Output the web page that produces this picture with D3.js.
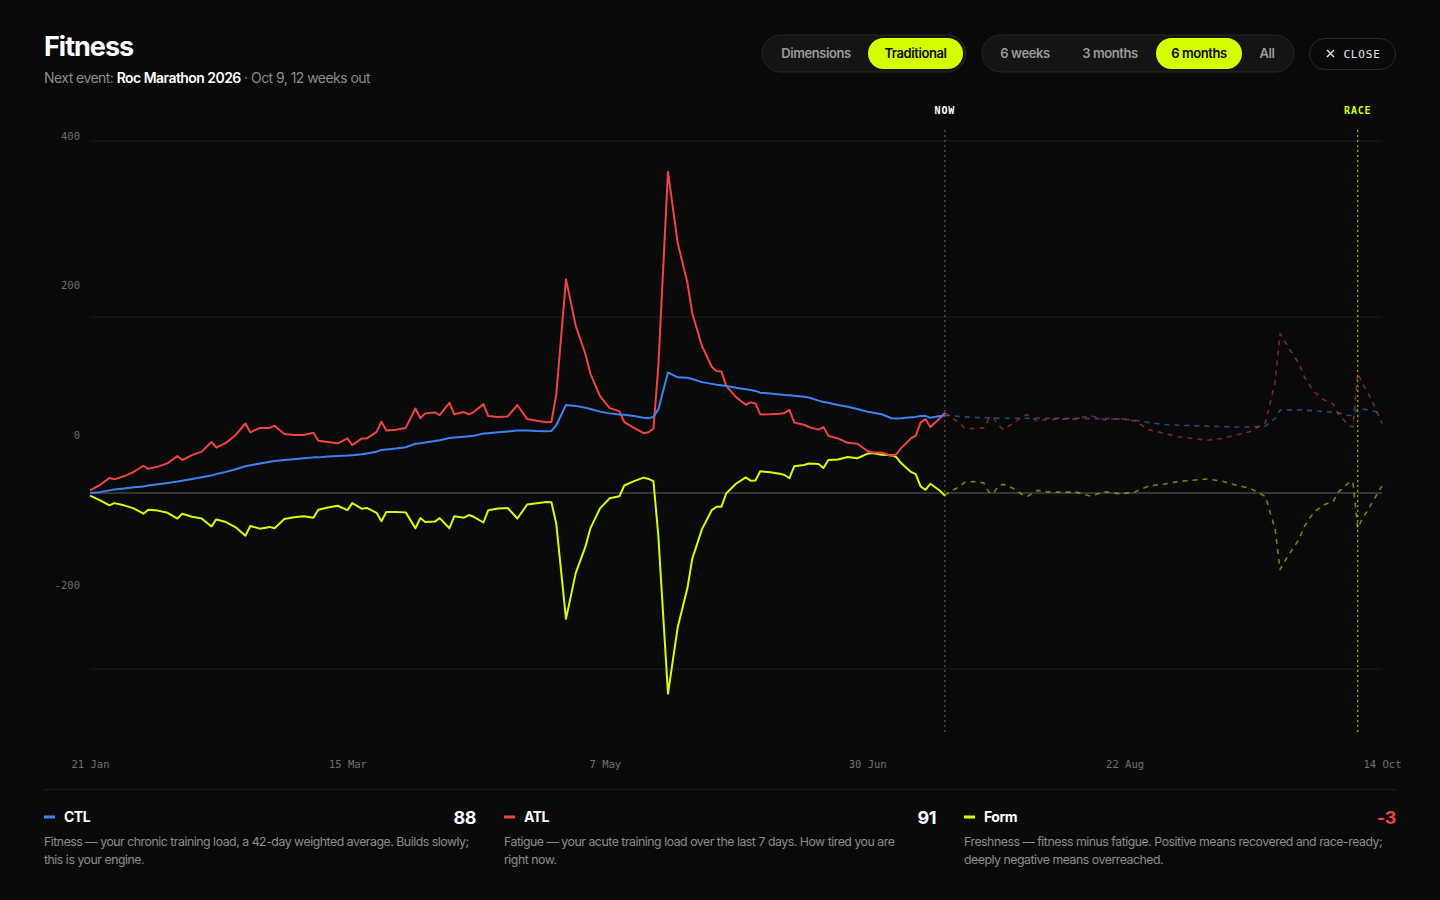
<!DOCTYPE html>
<html>
<head>
<meta charset="utf-8">
<script src="https://cdn.jsdelivr.net/npm/d3@7/dist/d3.min.js"></script>
<style>
  html,body{margin:0;padding:0;background:#0a0a0a;}
  svg{display:block;}
  .ui{font-family:Inter,"Noto Sans",sans-serif;}
  .mono{font-family:"DejaVu Sans Mono","Liberation Mono",monospace;}
</style>
</head>
<body>
<svg id="chart" width="1440" height="900"></svg>
<script>
// ---------- DATA ----------
const startDate = "2026-01-21";
const xTickLabels = ["21 Jan", "15 Mar", "7 May", "30 Jun", "22 Aug", "14 Oct"];
const xTickDates = ["2026-01-21", "2026-03-15", "2026-05-07", "2026-06-30", "2026-08-22", "2026-10-14"];
const yTicks = [400, 200, 0, -200];
const nowDate = "2026-07-16";
const raceDate = "2026-10-09";

// history (days since 21 Jan)
const pastDays = [0,2,4,5,7,9,11,12,14,16,18,19,21,23,25,26,28,30,32,33,35,37,38,40,42,44,46,47,49,51,53,54,56,57,59,60,61,63,65,67,68,69,71,72,74,75,77,78,79,81,82,84,86,88,90,92,94,95,96,98,100,102,103,105,107,109,110,112,114,115,116,117,119,121,123,124,126,128,129,130,131,133,135,136,137,138,140,142,143,144,145,147,148,150,151,152,154,156,158,160,161,163,165,166,167,169,170,171,172,173,175,176];
const pastCTL = [0,1,3,4,5,6.5,7.5,8.5,10,11.5,13,14,16,18,20,21.5,24,27,30.5,31.5,33.5,35.5,36.5,37.5,38.5,39.5,40.5,40.5,41.5,42,42.5,43,44,45,47,49,49.5,50.5,52,56,56.5,57.5,59,60,62.5,63,64,64.5,65,67.5,68,69,70,71,71,70.5,70.3,70.5,77,100,99,97,95.5,92.5,90.5,89.3,89,87.5,85.5,85,86.5,95,137,131.5,131,129.5,126,124,123,122.5,121.5,119.5,118,117,116,114,113,112,111.5,111.2,110.5,109.5,108.5,105,103.4,102.5,100,98,95.5,92.5,91.5,89.5,85,84.7,85,86,86.5,87.5,87.7,85.5,87.5,88];
const pastATL = [3,9,17,15.5,19,24,31,27.5,30,34,42,37.5,43,47,58,51.5,57,66,79,69,74,74,76.5,67,66,66,68.5,59.5,58,56.5,62,54.5,62,62,69.5,81,71,72,74,96,85,90.5,91.5,88.5,102.5,89.5,92,89.5,92,101,87.5,86.5,87,100,84,82,80.5,81,112,243,190,158,136,110,96.5,93,80.5,74,68,69,73,143,365,284,239,204,167,143.5,138.6,138,121.8,109,100.3,103,101.7,89.3,89.5,90,91,94.4,80,77.6,75,72,75,65,62,57,56,48,46,46,42,44,51,62,65,80,84,75,85,91];
const pastForm = [-3,-8,-14,-11.5,-14,-17.5,-23.5,-19,-20,-22.5,-29,-23.5,-27,-29,-38,-30,-33,-39,-48.5,-37.5,-40.5,-38.5,-40,-29.5,-27.5,-26.5,-28,-19,-16.5,-14.5,-19.5,-11.5,-18,-17,-22.5,-32,-21.5,-21.5,-22,-40,-28.5,-33,-32.5,-28.5,-40,-26.5,-28,-25,-27,-33.5,-19.5,-17.5,-17,-29,-13,-11.5,-10.2,-10.5,-35,-143,-91,-61,-40.5,-17.5,-6,-3.7,8.5,13.5,17.5,16,13.5,-48,-228,-152.5,-108,-74.5,-41,-19.5,-15.6,-15.5,-0.3,10.5,17.7,14,14.3,24.7,23.5,22,20.5,16.8,30.5,31.9,33.5,33,28.4,37.5,38,41,39.5,44.5,45.5,43.5,43,40.7,34,24,21.5,7.5,3.7,10.5,2.5,-3];

// projection
const projDays = [176,177,179,180,182,184,185,186,187,188,190,192,193,195,197,200,203,206,209,212,215,218,221,224,227,230,233,236,239,242,244,245,246,247,248,249,250,252,254,256,257,258,259,260,261,262,263,264,266];
const projCTL = [88,88,87,86.5,86,85.5,85.5,85.5,85,85,85,85,85,85,85,85,85,84.5,84.5,84,83,80,78,77,76.5,76,75.5,75,75,76,85,94,94.5,94.5,94.5,94.5,94,93.5,92.5,91.7,91,90,88,88,96,95.5,94.5,93.5,90];
const projATL = [91,87,80,74,73,74,84,86,77,72.5,79,87,89,82,83.5,84,84,88,83,85,82,72,68,64,62,60,62,66,70,80,126,181,172,163,155,146,132,115,106,101,90,84,77,75,136,124,115,104,79];
const projForm = [-3,1.5,7,12,13,11.5,1.5,-0.5,8,10,5.5,-2,-4,3,1.5,1,1,-3.5,1.5,-1,1,8,10,13,14.5,16,13.5,9,5,-4,-41,-87,-77.5,-68.5,-60.5,-51.5,-38,-21.5,-13.5,-9.3,1,6,11,13,-40,-28.5,-20.5,-10.5,8];

const legendNames = ["CTL", "ATL", "Form"];
const legendValues = ["88", "91", "-3"];
const legendText = [
  ["Fitness — your chronic training load, a 42-day weighted average. Builds slowly;", "this is your engine."],
  ["Fatigue — your acute training load over the last 7 days. How tired you are", "right now."],
  ["Freshness — fitness minus fatigue. Positive means recovered and race-ready;", "deeply negative means overreached."]
];
const modeButtons = ["Dimensions", "Traditional"];
const rangeButtons = ["6 weeks", "3 months", "6 months", "All"];

// ---------- STYLE ----------
const COL = { ctl: "#3d83f6", atl: "#ef4444", form: "#d4ff00", lime: "#d4ff00" };
const svg = d3.select("#chart");
svg.append("rect").attr("width", 1440).attr("height", 900).attr("fill", "#0a0a0a");

const parse = d3.timeParse("%Y-%m-%d");
const t0 = parse(startDate);
const toDate = d => d3.timeDay.offset(t0, d);

const x = d3.scaleTime().domain([parse(xTickDates[0]), parse(xTickDates[5])]).range([90, 1382]);
const y = d3.scaleLinear().domain([-272.7, 412.5]).range([733, 130]);
const yLab = d3.scaleLinear().domain([-200, 400]).range([585, 136]);

// ---------- HEADER ----------
svg.append("text").attr("class", "ui").attr("x", 44).attr("y", 56)
  .attr("fill", "#fff").attr("font-size", 27).attr("font-weight", 700).attr("letter-spacing", -1)
  .text("Fitness");
const sub = svg.append("text").attr("class", "ui").attr("x", 44).attr("y", 83)
  .attr("font-size", 14).attr("letter-spacing", -0.55).attr("fill", "#8c8c8c");
sub.append("tspan").text("Next event: ");
sub.append("tspan").attr("fill", "#fff").attr("font-weight", 600).text("Roc Marathon 2026");
sub.append("tspan").text(" · Oct 9, 12 weeks out");

function pillGroup(x0, w, items, centers, activeIdx, activeRect) {
  svg.append("rect").attr("x", x0).attr("y", 35).attr("width", w).attr("height", 37).attr("rx", 18.5)
    .attr("fill", "#141414").attr("stroke", "#262626");
  items.forEach((t, i) => {
    if (i === activeIdx) {
      svg.append("rect").attr("x", activeRect[0]).attr("y", 38).attr("width", activeRect[1]).attr("height", 31)
        .attr("rx", 15.5).attr("fill", COL.lime);
    }
    svg.append("text").attr("class", "ui").attr("x", centers[i]).attr("y", 58)
      .attr("text-anchor", "middle").attr("font-size", 13).attr("font-weight", 600).attr("letter-spacing", -0.4)
      .attr("fill", i === activeIdx ? "#0a0a0a" : "#9a9a9a").text(t);
  });
}
pillGroup(762, 204, modeButtons, [816, 915.5], 1, [868, 95]);
pillGroup(982, 312, rangeButtons, [1025, 1110, 1199, 1267], 2, [1156, 86]);
svg.append("rect").attr("x", 1309.5).attr("y", 38.5).attr("width", 86).attr("height", 31).attr("rx", 15.5)
  .attr("fill", "none").attr("stroke", "#2a2a2a");
svg.append("text").attr("class", "mono").attr("x", 1362).attr("y", 58).attr("text-anchor", "middle")
  .attr("font-size", 11).attr("letter-spacing", 0.8).attr("fill", "#e6e6e6").text("CLOSE");
svg.append("path").attr("d", "M1327,50 L1334,57 M1334,50 L1327,57").attr("stroke", "#e6e6e6").attr("stroke-width", 1.4);

// ---------- GRID ----------
svg.append("g").selectAll("line").data(yTicks).join("line")
  .attr("x1", 90).attr("x2", 1382).attr("y1", d => y(d)).attr("y2", d => y(d))
  .attr("stroke", d => d === 0 ? "#5e5e5e" : "#1f1f1f").attr("stroke-width", 1);

svg.append("g").selectAll("text").data(yTicks).join("text")
  .attr("class", "mono").attr("x", 80).attr("y", d => yLab(d)).attr("dy", "0.35em")
  .attr("text-anchor", "end").attr("font-size", 10.5).attr("fill", "#6e6e6e").text(d => d);

const xAxis = d3.axisBottom(x).tickValues(xTickDates.map(parse)).tickFormat((d, i) => xTickLabels[i]).tickSize(0);
const gx = svg.append("g").attr("transform", "translate(0,758)").call(xAxis);
gx.select(".domain").remove();
gx.selectAll("text").attr("class", "mono").attr("font-size", 10.5).attr("fill", "#707070")
  .attr("font-family", "DejaVu Sans Mono, monospace");

// NOW & RACE markers
const xn = x(parse(nowDate)), xr = x(parse(raceDate));
svg.append("line").attr("x1", xn).attr("x2", xn).attr("y1", 130).attr("y2", 733)
  .attr("stroke", "#5a5a5a").attr("stroke-dasharray", "2,3").attr("stroke-width", 1.2);
svg.append("line").attr("x1", xr).attr("x2", xr).attr("y1", 130).attr("y2", 733)
  .attr("stroke", "#8fa300").attr("stroke-dasharray", "2,3").attr("stroke-width", 1.4);
svg.append("text").attr("class", "mono").attr("x", xn).attr("y", 114).attr("text-anchor", "middle")
  .attr("font-size", 10).attr("font-weight", 700).attr("letter-spacing", 0.8).attr("fill", "#fff").text("NOW");
svg.append("text").attr("class", "mono").attr("x", xr).attr("y", 114).attr("text-anchor", "middle")
  .attr("font-size", 10).attr("font-weight", 700).attr("letter-spacing", 0.8).attr("fill", COL.lime).text("RACE");

// ---------- LINES ----------
const line = d3.line().x(d => x(toDate(d[0]))).y(d => y(d[1]));
function drawSeries(days, vals, color, dashed) {
  const p = svg.append("path").datum(days.map((d, i) => [d, vals[i]]))
    .attr("d", line).attr("fill", "none").attr("stroke", color)
    .attr("stroke-width", dashed ? 1.6 : 2).attr("stroke-linejoin", "round");
  if (dashed) p.attr("stroke-dasharray", "5,5").attr("stroke-opacity", 0.5);
}
drawSeries(projDays, projCTL, COL.ctl, true);
drawSeries(projDays, projATL, COL.atl, true);
drawSeries(projDays, projForm, COL.form, true);
drawSeries(pastDays, pastForm, COL.form, false);
drawSeries(pastDays, pastATL, COL.atl, false);
drawSeries(pastDays, pastCTL, COL.ctl, false);

// ---------- LEGEND ----------
svg.append("line").attr("x1", 44).attr("x2", 1396).attr("y1", 789.5).attr("y2", 789.5).attr("stroke", "#1c1c1c");
const legCols = [COL.ctl, COL.atl, COL.form];
legendNames.forEach((n, i) => {
  const lx = 44 + i * 460;
  svg.append("line").attr("x1", lx).attr("x2", lx + 11).attr("y1", 817).attr("y2", 817)
    .attr("stroke", legCols[i]).attr("stroke-width", 3);
  svg.append("text").attr("class", "ui").attr("x", lx + 20).attr("y", 822).attr("font-size", 14)
    .attr("font-weight", 700).attr("letter-spacing", -0.5).attr("fill", "#fff").text(n);
  svg.append("text").attr("class", "ui").attr("x", lx + 432).attr("y", 824).attr("text-anchor", "end")
    .attr("font-size", 18).attr("font-weight", 700).attr("letter-spacing", -0.5)
    .attr("fill", legendValues[i].startsWith("-") ? COL.atl : "#fff").text(legendValues[i]);
  legendText[i].forEach((t, j) => {
    svg.append("text").attr("class", "ui").attr("x", lx).attr("y", 846 + j * 18).attr("font-size", 12.3)
      .attr("letter-spacing", -0.47).attr("fill", "#8c8c8c").text(t);
  });
});
</script>
</body>
</html>
